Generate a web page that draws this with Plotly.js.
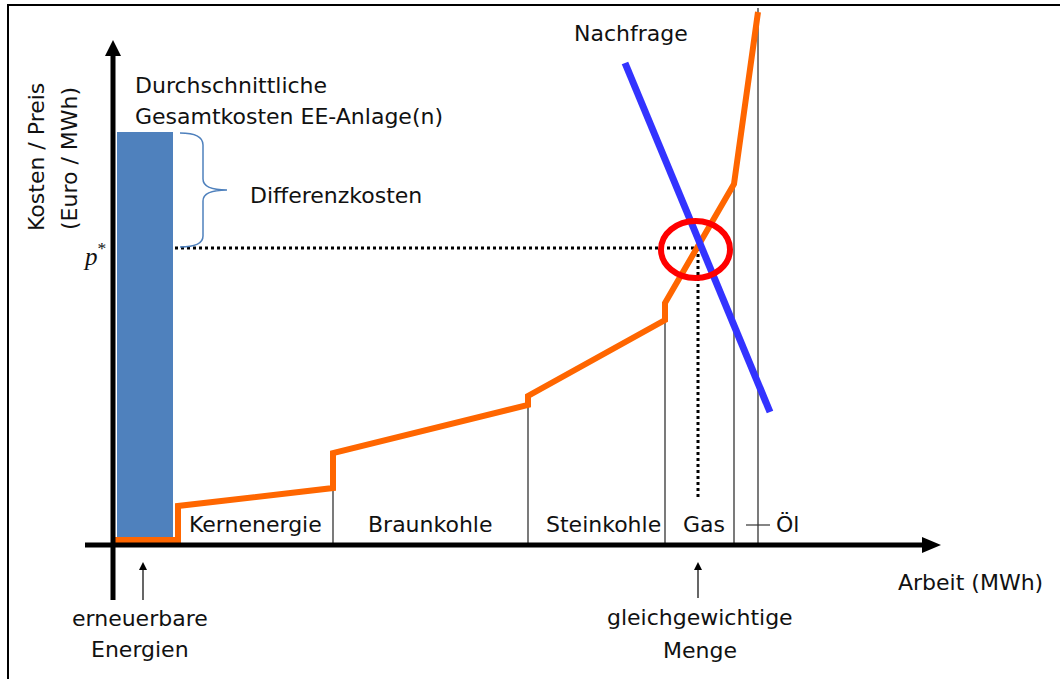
<!DOCTYPE html>
<html>
<head>
<meta charset="utf-8">
<script src="https://cdn.plot.ly/plotly-3.0.1.min.js"></script>
<style>html,body{margin:0;padding:0;background:#fff;}#chart{width:1060px;height:679px;}</style>
</head>
<body>
<div id="chart"></div>
<script>
// Schematic merit-order chart (arbitrary units: Arbeit in MWh, Kosten in Euro/MWh)
const supplyX = [0, 65, 65, 220, 220, 415, 415, 552, 552, 621, 645];
const supplyY = [5, 5, 39, 57, 92, 140, 149, 225, 242, 361, 533];
const demandX = [512, 657];
const demandY = [482, 133];
const eeBarX = [32];
const eeBarWidth = [56];
const eeBarY = [413];
const separatorX = [220, 415, 552, 621, 645];
const separatorTop = [57, 140, 225, 361, 537];
const categories = ["Kernenergie", "Braunkohle", "Steinkohle", "Gas", "Öl"];
const categoryX = [142, 317, 490, 591, 674];
const pStar = 297;
const qStar = 585;

const FONT = "DejaVu Sans";
const BLACK = "#000000";

// separator traces with gaps
const sx = [], sy = [];
separatorX.forEach((x, i) => { sx.push(x, x, null); sy.push(0, separatorTop[i], null); });

const traces = [
  {type: "bar", x: eeBarX, y: eeBarY, width: eeBarWidth, marker: {color: "#4f81bd", line: {width: 0}}, hoverinfo: "skip"},
  {type: "scatter", mode: "lines", x: sx, y: sy, line: {color: "#333333", width: 1.3}, hoverinfo: "skip"},
  {type: "scatter", mode: "lines", x: [62, qStar], y: [pStar, pStar], line: {color: BLACK, width: 3, dash: "dot"}, hoverinfo: "skip"},
  {type: "scatter", mode: "lines", x: [qStar, qStar], y: [pStar, 48], line: {color: BLACK, width: 3, dash: "dot"}, hoverinfo: "skip"},
  {type: "scatter", mode: "lines", x: supplyX, y: supplyY, line: {color: "#ff6600", width: 6}, hoverinfo: "skip"},
  {type: "scatter", mode: "lines", x: demandX, y: demandY, line: {color: "#3333ff", width: 7}, hoverinfo: "skip"}
];

function ann(text, x, y, opts) {
  return Object.assign({text: text, x: x, y: y, xref: "x", yref: "y", showarrow: false,
    font: {family: FONT, size: 22, color: "#111"}}, opts || {});
}

const annotations = [
  ann("Durchschnittliche", 20, 460, {xanchor: "left"}),
  ann("Gesamtkosten EE-Anlage(n)", 20, 429, {xanchor: "left"}),
  ann("Differenzkosten", 135, 350, {xanchor: "left"}),
  ann("Nachfrage", 459, 512, {xanchor: "left"}),
  ann("Kosten / Preis", -77, 388, {textangle: -90}),
  ann("(Euro / MWh)", -44, 386, {textangle: -90}),
  ann("<i>p</i><sup>*</sup>", -19, 291, {font: {family: "Liberation Serif", size: 25, color: "#111"}}),
  ann("Arbeit (MWh)", 783, -37, {xanchor: "left"}),
  ann("erneuerbare", 27, -73),
  ann("Energien", 27, -104),
  ann("gleichgewichtige", 587, -72),
  ann("Menge", 587, -105)
];
categories.forEach((c, i) => annotations.push(ann(c, categoryX[i], 21)));

const shapes = [
  // outer frame
  {type: "rect", xref: "paper", yref: "paper", x0: 8/1060, x1: 1.01, y0: -0.01, y1: 1 - 5/679, line: {color: BLACK, width: 2}},
  // axes
  {type: "line", x0: 0, x1: 0, y0: -55, y1: 490, line: {color: BLACK, width: 5}},
  {type: "path", path: "M -8 489 L 8 489 L 0 505 Z", fillcolor: BLACK, line: {width: 0}},
  {type: "line", x0: -28, x1: 810, y0: 0, y1: 0, line: {color: BLACK, width: 5}},
  {type: "path", path: "M 809 -8 L 809 8 L 828 0 Z", fillcolor: BLACK, line: {width: 0}},
  // small arrows
  {type: "line", x0: 30, x1: 30, y0: -55, y1: -22, line: {color: BLACK, width: 1.2}},
  {type: "path", path: "M 26 -25 L 34 -25 L 30 -17 Z", fillcolor: BLACK, line: {width: 0}},
  {type: "line", x0: 585, x1: 585, y0: -53, y1: -22, line: {color: BLACK, width: 1.2}},
  {type: "path", path: "M 581 -25 L 589 -25 L 585 -17 Z", fillcolor: BLACK, line: {width: 0}},
  // Öl pointer
  {type: "line", x0: 633, x1: 657, y0: 20, y1: 20, line: {color: "#333", width: 1.2}},
  // brace
  {type: "path", path: "M 67 412 Q 90 412 90 400 L 90 366 Q 90 355 114 355 M 114 355 Q 90 355 90 344 L 90 309 Q 90 298 67 298",
   line: {color: "#4f81bd", width: 1.5}},
  // equilibrium ellipse
  {type: "circle", x0: 548, x1: 617, y0: 267, y1: 324, line: {color: "#ff0000", width: 6}, layer: "above"}
];

const layout = {
  width: 1060, height: 679,
  margin: {l: 0, r: 0, t: 0, b: 0},
  paper_bgcolor: "#ffffff", plot_bgcolor: "#ffffff",
  showlegend: false,
  xaxis: {range: [-113, 947], visible: false, fixedrange: true},
  yaxis: {range: [-134, 545], visible: false, fixedrange: true},
  annotations: annotations,
  shapes: shapes,
  bargap: 0
};

Plotly.newPlot("chart", traces, layout, {staticPlot: true, displayModeBar: false});
</script>
</body>
</html>
